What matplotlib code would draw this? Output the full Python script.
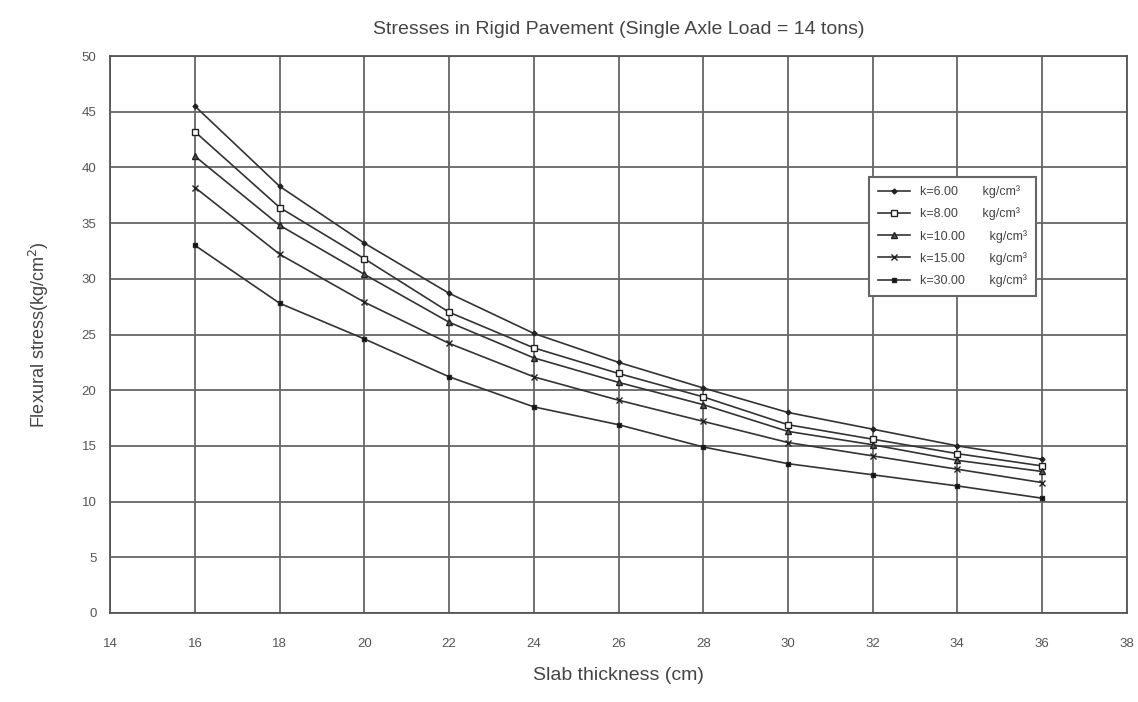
import numpy as np
import matplotlib.pyplot as plt

plt.rcParams['font.family'] = ['Liberation Sans', 'DejaVu Sans']

# slab thickness (cm)
thickness = [16, 18, 20, 22, 24, 26, 28, 30, 32, 34, 36]

# flexural stress (kg/cm2) for each modulus of subgrade reaction
k_labels = ['k=6.00', 'k=8.00', 'k=10.00', 'k=15.00', 'k=30.00']
stress_k6 = [45.5, 38.3, 33.2, 28.7, 25.1, 22.5, 20.2, 18.0, 16.5, 15.0, 13.8]
stress_k8 = [43.2, 36.4, 31.8, 27.0, 23.8, 21.5, 19.4, 16.9, 15.6, 14.3, 13.2]
stress_k10 = [41.0, 34.8, 30.4, 26.1, 22.9, 20.7, 18.7, 16.3, 15.1, 13.7, 12.7]
stress_k15 = [38.2, 32.2, 27.9, 24.2, 21.2, 19.1, 17.2, 15.3, 14.1, 12.9, 11.7]
stress_k30 = [33.0, 27.8, 24.6, 21.2, 18.5, 16.9, 14.9, 13.4, 12.4, 11.4, 10.3]

series = [stress_k6, stress_k8, stress_k10, stress_k15, stress_k30]
markers = [dict(marker='D', ms=2.5, mfc='#222222'),
           dict(marker='s', ms=5, mfc='white'),
           dict(marker='^', ms=4, mfc='#555555'),
           dict(marker='x', ms=5, mfc='none'),
           dict(marker='s', ms=3.5, mfc='#111111')]

fig = plt.figure(figsize=(11.38, 7.02), dpi=100)
ax = fig.add_axes([0.097, 0.127, 0.893, 0.793])

for vals, lab, mk in zip(series, k_labels, markers):
    ax.plot(thickness, vals, color='#333333', lw=1.2, mec='#222222',
            label=f'{lab}       kg/cm³', **mk)

ax.set_xlim(14, 38)
ax.set_ylim(0, 50)
ax.set_xticks(np.arange(14, 39, 2))
ax.set_yticks(np.arange(0, 51, 5))
ax.grid(True, color='#666666', lw=1.3)
ax.set_axisbelow(True)
for s in ax.spines.values():
    s.set_color('#555555')
    s.set_linewidth(1.3)
ax.tick_params(length=0, labelsize=9.5, colors='#555555', pad=18)
ax.tick_params(axis='y', pad=10)

ax.set_title('Stresses in Rigid Pavement (Single Axle Load = 14 tons)',
             fontsize=14, color='#444444', pad=16)
ax.set_xlabel('Slab thickness (cm)', fontsize=14, color='#444444', labelpad=12)
ax.set_ylabel('Flexural stress(kg/cm$^2$)', fontsize=13, color='#444444', labelpad=22)

leg = ax.legend(loc='upper right', bbox_to_anchor=(0.917, 0.795), fontsize=9,
                frameon=True, fancybox=False, handlelength=2.6, labelspacing=0.75,
                borderpad=0.7, framealpha=1)
leg.get_frame().set_edgecolor('#666666')
leg.get_frame().set_linewidth(1.5)
for t in leg.get_texts():
    t.set_color('#444444')

fig.savefig('out.png', dpi=100, facecolor='white')
